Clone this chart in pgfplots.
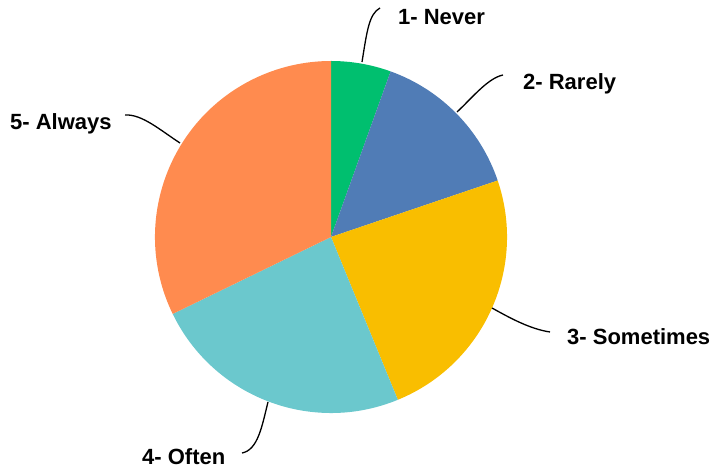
\documentclass[border=0pt]{standalone}
\usepackage{pgfplots}
\usepackage{pgfplotstable}
\pgfplotsset{compat=1.18}
\usepackage{fontspec}
\setmainfont{Liberation Sans}
\definecolor{cNever}{HTML}{00BF6F}
\definecolor{cRarely}{HTML}{507CB6}
\definecolor{cSometimes}{HTML}{F9BE00}
\definecolor{cOften}{HTML}{6BC8CD}
\definecolor{cAlways}{HTML}{FF8B4F}
\pgfplotstableread[col sep=comma]{
label,value,color
1- Never,5.5,cNever
2- Rarely,14.3,cRarely
3- Sometimes,24.0,cSometimes
4- Often,24.0,cOften
5- Always,32.2,cAlways
}\piedata
\pgfplotstablecreatecol[expr accum={\pgfmathaccuma + \thisrow{value}}{0}]{cum}\piedata
\begin{document}
\begin{tikzpicture}
\begin{axis}[width=715pt,height=476pt,scale only axis,
  xmin=0,xmax=715,ymin=0,ymax=476,hide axis,clip=false]
\addplot[draw=none] coordinates {(0,0) (715,476)};
\pgfplotsextra{
  \foreach \i in {0,...,4}{
    \pgfplotstablegetelem{\i}{value}\of\piedata \let\v\pgfplotsretval
    \pgfplotstablegetelem{\i}{cum}\of\piedata \let\cm\pgfplotsretval
    \pgfplotstablegetelem{\i}{color}\of\piedata \let\cc\pgfplotsretval
    \pgfmathsetmacro\sa{90-3.6*(\cm-\v)}
    \pgfmathsetmacro\ea{90-3.6*\cm}
    \fill[fill=\cc] (axis cs:331,239) -- ++(\sa:176pt) arc[start angle=\sa,end angle=\ea,radius=176pt] -- cycle;
  }
}
\tikzset{lead/.style={line width=1.3pt,black}}
\draw[lead] (axis cs:362,414) .. controls (axis cs:367,445) and (axis cs:369,462) .. (axis cs:380,468);
\draw[lead] (axis cs:457,364) .. controls (axis cs:472,378) and (axis cs:488,398) .. (axis cs:503,401);
\draw[lead] (axis cs:492,168) .. controls (axis cs:510,158) and (axis cs:530,147) .. (axis cs:550,144);
\draw[lead] (axis cs:268,74) .. controls (axis cs:262,50) and (axis cs:258,26) .. (axis cs:242,23);
\draw[lead] (axis cs:180,333) .. controls (axis cs:160,346) and (axis cs:142,362) .. (axis cs:125,361);
\tikzset{lab/.style={anchor=base west,font=\fontsize{22}{26}\selectfont\bfseries,inner sep=0pt}}
\node[lab] at (axis cs:398,451) {1- Never};
\node[lab] at (axis cs:523,386) {2- Rarely};
\node[lab] at (axis cs:567,131) {3- Sometimes};
\node[lab] at (axis cs:142,11) {4- Often};
\node[lab] at (axis cs:10,346) {5- Always};
\end{axis}
\end{tikzpicture}
\end{document}
